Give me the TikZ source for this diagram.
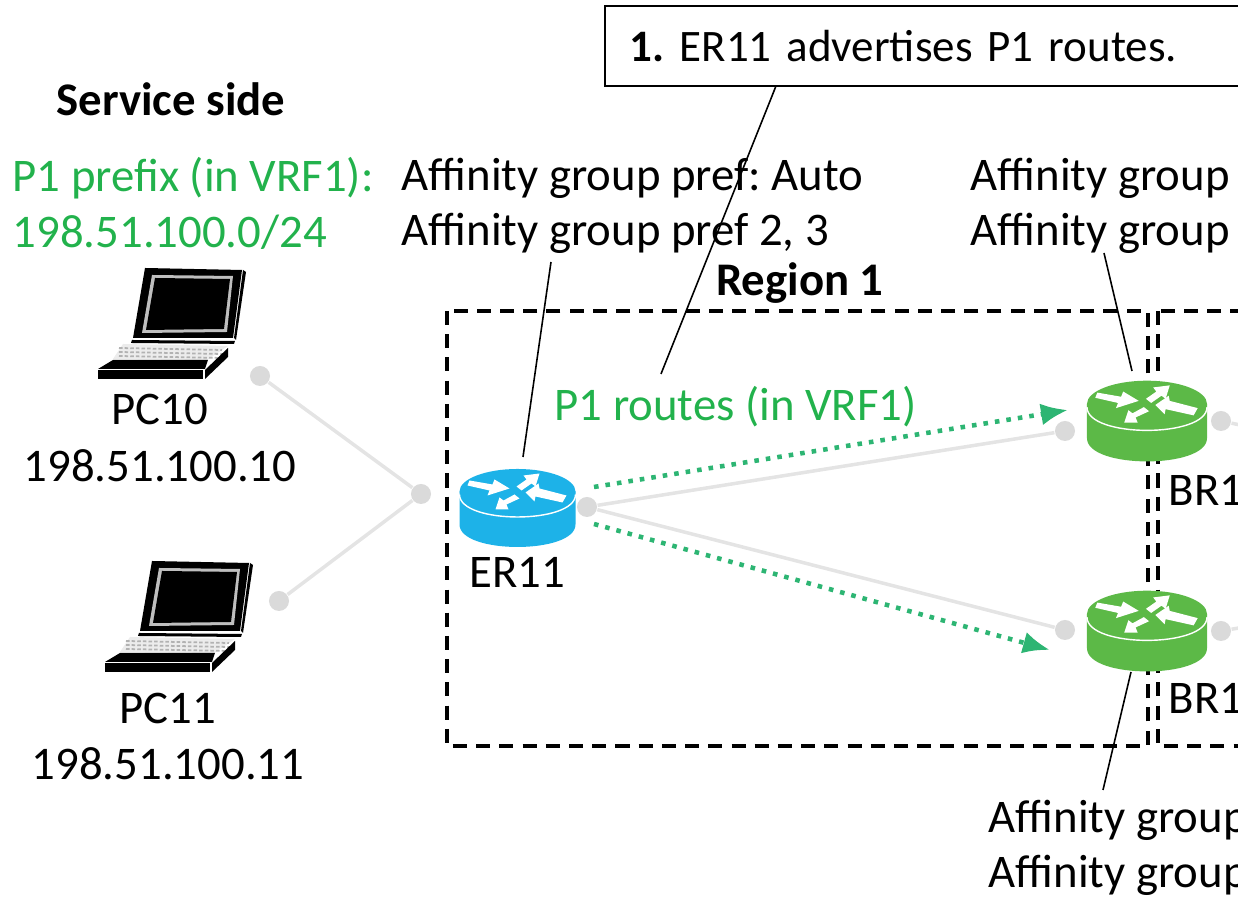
\documentclass[tikz,border=0pt]{standalone}
\usepackage{fontspec}
\setmainfont{Carlito}
\usetikzlibrary{arrows.meta}
\definecolor{routeblue}{HTML}{1DB2E8}
\definecolor{routegreen}{HTML}{5CB947}
\definecolor{labelgreen}{HTML}{22B24C}
\definecolor{advgreen}{HTML}{2DB573}
\definecolor{linkgray}{HTML}{E4E4E4}
\definecolor{dotgray}{HTML}{DADADA}
\frenchspacing
\tikzset{
	lbl/.style={font=\fontsize{13.3pt}{16pt}\selectfont, inner sep=0pt, text=black},
	lblbold/.style={font=\fontsize{13.3pt}{16pt}\selectfont\bfseries, inner sep=0pt, text=black},
	lblleft/.style={lbl, anchor=west},
	greenlbl/.style={lblleft, text=labelgreen},
	linkdot/.style={circle, fill=dotgray, minimum size=0.2cm, inner sep=0pt},
	link/.style={linkgray, line width=1pt},
	adv/.style={advgreen, line width=1.3pt, dotted, -{Latex[length=0.27cm, width=0.22cm]}},
	leader/.style={black, line width=0.45pt},
	regionbox/.style={black, line width=1.05pt, dash pattern=on 4pt off 2.6pt},
	pics/router/.style={code={
		\fill[#1] (-58,0) -- (-58,33) .. controls (-58,63) and (58,63) .. (58,33) -- (58,0) -- cycle;
		\fill[#1] (0,0) ellipse [x radius=58, y radius=22.5];
		\draw[white, line width=0.4pt] (-58,3) .. controls (-58,33) and (58,33) .. (58,3);
		\fill[white] (-48,-11) -- (-25,-7) -- (-23,-12) -- (-8,-3) -- (-30,4) -- (-28,-1) -- (-50,-6) -- cycle;
		\fill[white] (-1,-5) -- (9,-12) -- (6,-16) -- (22,-18) -- (18,-5) -- (14,-8) -- (4,-1) -- cycle;
		\fill[white] (49,4) -- (22,-3) -- (21,-8) -- (8,1) -- (17,10) -- (18,5) -- (45,11) -- cycle;
		\fill[white] (-3,3) -- (-14,9) -- (-18,6) -- (-22,18) -- (-9,18) -- (-11,13) -- (2,7) -- cycle;
	}},
	pics/laptop/.style={code={
		\fill[black] (47,-112) -- (144,-110) -- (135,-42) -- (35,-42) -- cycle;
		\fill[black] (145,-110) -- (148,-108) -- (138,-40) -- (136,-42) -- cycle;
		\fill[gray!50] (54,-105) -- (135,-104) -- (129,-48) -- (44,-47) -- cycle;
		\fill[black] (57,-102) -- (132,-101) -- (126,-51) -- (48,-50) -- cycle;
		\fill[black] (34,-40) -- (137,-39) -- (136,-36) -- (33,-37) -- cycle;
		\fill[gray!15] (25,-36) -- (130,-34) -- (109,-20) -- (15,-21) -- cycle;
		\foreach \ky in {-32,-28,-24}
			\draw[gray!60, line width=0.5pt, dash pattern=on 1pt off 0.6pt] (21,\ky) -- (124,\ky+2);
		\fill[black] (15,-20) -- (110,-20) -- (107,-11) -- (0,-11) -- cycle;
		\fill[black] (0,-10) -- (105,-10) -- (105,-1) -- (0,-1) -- cycle;
		\fill[black] (107,-10) -- (130,-32) -- (130,-23) -- (107,-1) -- cycle;
	}}
}
\begin{document}
\begin{tikzpicture}[x=0.01cm, y=-0.01cm]
		\useasboundingbox (0, 0) rectangle (1238, 901);
		\clip (0, 0) rectangle (1238, 901);
		% Regions and links:
		\draw[regionbox] (447, 311) rectangle (1148, 746);
		\draw[regionbox] (1158, 311) rectangle (1300, 746);
		\node[linkdot](D1) at (260, 376){};
		\node[linkdot](D2) at (279, 601){};
		\node[linkdot](D3) at (421, 494){};
		\node[linkdot](D4) at (587, 507){};
		\node[linkdot](D5) at (1065, 431){};
		\node[linkdot](D6) at (1065, 630){};
		\node[linkdot](D7) at (1221, 421){};
		\node[linkdot](D8) at (1221, 631){};
		\coordinate (E7) at (1245, 426);
		\coordinate (E8) at (1245, 627);
		\draw[link] (D1) -- (D3);
		\draw[link] (D2) -- (D3);
		\draw[link] (D4) -- (D5);
		\draw[link] (D4) -- (D6);
		\draw[link] (D7) -- (E7);
		\draw[link] (D8) -- (E8);
		% Devices:
		\pic (PC10) at (98, 380) {laptop};
		\pic (PC11) at (105, 673) {laptop};
		\pic (ER11) at (517.5, 491.5) {router={routeblue}};
		\pic[scale=1.035] (BR1) at (1147, 404) {router={routegreen}};
		\pic[scale=1.035] (BR2) at (1147, 614) {router={routegreen}};
		% Routes:
		\coordinate (A1) at (594, 487);
		\coordinate (A2) at (1068, 410);
		\coordinate (A3) at (594, 524);
		\coordinate (A4) at (1050, 650);
		\draw[adv] (A1) -- (A2);
		\draw[adv] (A3) -- (A4);
		% Labels:
		\node[lblbold](N1) at (171, 99){Service side};
		\node[greenlbl](N2) at (12, 178){P1 prefix (in VRF1):};
		\node[greenlbl](N3) at (12, 232){198.51.100.0/24};
		\node[lbl](N4) at (160, 409){PC10};
		\node[lbl](N5) at (160, 466){198.51.100.10};
		\node[lbl](N6) at (168, 708){PC11};
		\node[lbl](N7) at (168, 764){198.51.100.11};
		\node[lblleft](N8) at (401, 178){Affinity group pref: Auto};
		\node[lblleft](N9) at (401, 233){Affinity group pref 2, 3};
		\node[lblbold](N10) at (800, 283){Region 1};
		\node[greenlbl](N11) at (554, 407){P1 routes (in VRF1)};
		\node[lbl](N12) at (517, 572){ER11};
		\node[lblleft](N13) at (970, 178){Affinity group};
		\node[lblleft](N14) at (970, 233){Affinity group};
		\node[lblleft](N15) at (1168, 490){BR1};
		\node[lblleft](N16) at (1168, 698){BR1};
		\node[lblleft](N17) at (988, 820){Affinity group};
		\node[lblleft](N18) at (988, 875){Affinity group};
		\node[lblleft, font=\fontsize{12.8pt}{16pt}\selectfont, draw=black, fill=white, line width=0.45pt, minimum width=6.6cm, minimum height=0.8cm, text width=6.1cm, align=left, inner sep=0pt, inner xsep=0.25cm](N19) at (604, 46){\textbf{1.} ER11 advertises P1 routes.};
		% Leader lines:
		\coordinate (L1) at (776, 86);
		\coordinate (L2) at (661, 374);
		\coordinate (L3) at (551, 262);
		\coordinate (L4) at (523, 457);
		\coordinate (L5) at (1104, 253);
		\coordinate (L6) at (1132, 371);
		\coordinate (L7) at (1131, 672);
		\coordinate (L8) at (1103, 790);
		\draw[leader] (L1) -- (L2);
		\draw[leader] (L3) -- (L4);
		\draw[leader] (L5) -- (L6);
		\draw[leader] (L7) -- (L8);
	\end{tikzpicture}
\end{document}
